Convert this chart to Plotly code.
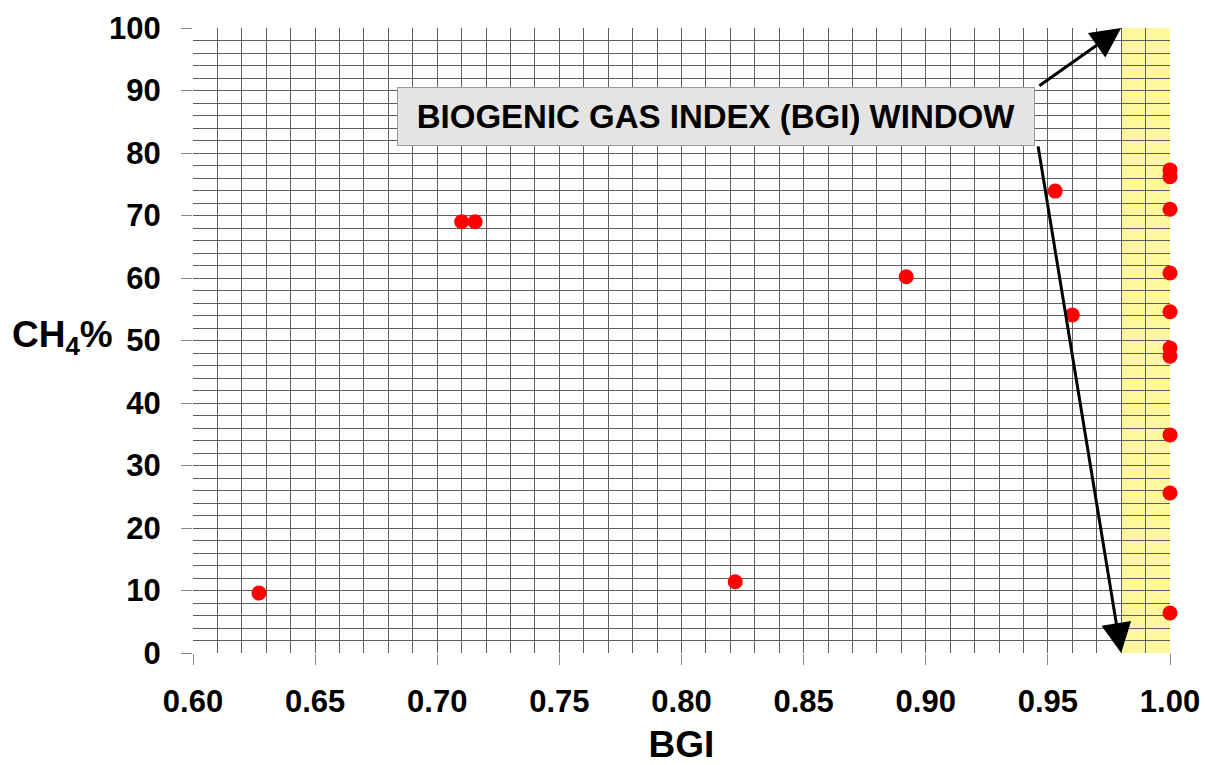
import plotly.graph_objects as go

# BGI vs methane content
bgi = [0.627, 0.710, 0.7155, 0.822, 0.892, 0.953, 0.960,
       1.00, 1.00, 1.00, 1.00, 1.00, 1.00, 1.00, 1.00, 1.00, 1.00]
ch4 = [9.6, 69.0, 69.0, 11.4, 60.2, 73.9, 54.1,
       77.3, 76.2, 71.0, 60.8, 54.6, 48.8, 47.5, 34.9, 25.6, 6.4]

x_ticks = [0.60, 0.65, 0.70, 0.75, 0.80, 0.85, 0.90, 0.95, 1.00]
y_ticks = [0, 10, 20, 30, 40, 50, 60, 70, 80, 90, 100]

window_start, window_end = 0.98, 1.00

FONT = "Liberation Sans, Arial, sans-serif"
GRID = "#5f5f5f"

fig = go.Figure()
fig.add_trace(go.Scatter(
    x=bgi, y=ch4, mode="markers",
    marker=dict(color="#ff0000", size=15, line=dict(width=0)),
    cliponaxis=False, showlegend=False,
))

# BGI window band
fig.add_shape(type="rect", xref="x", yref="y",
              x0=window_start, x1=window_end, y0=0, y1=100,
              fillcolor="#fff79c", line=dict(width=0), layer="below")

axis_common = dict(
    showline=False, zeroline=False, automargin=False,
    ticks="outside", ticklen=11, tickcolor="#8a8a8a", tickwidth=1,
    gridcolor=GRID, gridwidth=1,
    tickfont=dict(family=FONT, size=31, color="black", weight="bold"),
)

fig.update_xaxes(
    range=[0.60, 1.00], tickmode="array", tickvals=x_ticks,
    ticktext=[f"{v:.2f}" for v in x_ticks],
    minor=dict(tickmode="linear", tick0=0.60, dtick=0.01, ticks="",
               showgrid=True, gridcolor=GRID, gridwidth=1),
    ticklabelstandoff=10,
    title=dict(text="<b>BGI</b>", font=dict(family=FONT, size=37, color="black"),
               standoff=22),
    **axis_common,
)
fig.update_yaxes(
    range=[0, 100], tickmode="array", tickvals=y_ticks,
    minor=dict(tickmode="linear", tick0=0, dtick=2, ticks="",
               showgrid=True, gridcolor=GRID, gridwidth=1),
    ticklabelstandoff=14,
    **axis_common,
)

# y-axis label, horizontal
fig.add_annotation(
    xref="paper", yref="paper", x=-0.1873, y=0.505, xanchor="left", yanchor="middle",
    text="<b>CH<sub>4</sub>%</b>", showarrow=False,
    font=dict(family=FONT, size=37, color="black"),
)

# window label box
fig.add_annotation(
    xref="x", yref="y", x=0.8143, y=85.8,
    text="<b>BIOGENIC GAS INDEX (BGI) WINDOW</b>", showarrow=False,
    font=dict(family=FONT, size=33, color="black"),
    width=634, height=55, align="center", valign="middle",
    bgcolor="#e4e4e4", bordercolor="#9a9a9a", borderwidth=1, borderpad=1,
)

# arrows pointing to the window edges
for head_y, tail_y in [(100, 90.6), (0, 81.3)]:
    fig.add_annotation(
        xref="x", yref="y", axref="x", ayref="y",
        x=window_start, y=head_y, ax=0.9459, ay=tail_y,
        text="", showarrow=True, arrowhead=2, arrowsize=2.0,
        arrowwidth=3, arrowcolor="black",
    )

fig.update_layout(
    width=1205, height=765,
    margin=dict(l=193, r=35, t=28, b=112),
    paper_bgcolor="white", plot_bgcolor="white",
    font=dict(family=FONT),
)

fig.write_html("out.html")
